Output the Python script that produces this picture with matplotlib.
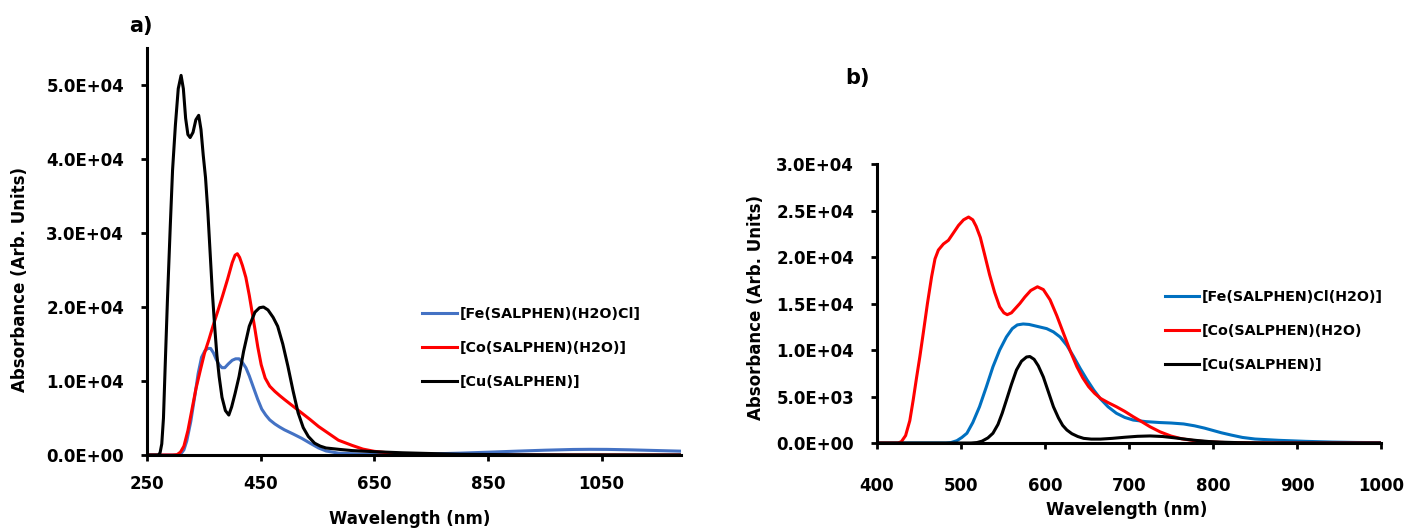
import matplotlib
matplotlib.use("Agg")
import matplotlib.pyplot as plt
from matplotlib.ticker import FuncFormatter, MultipleLocator

plt.rcParams['font.family'] = ['DejaVu Sans']
plt.rcParams['font.weight'] = 'bold'

# ------- panel a) data (nm, absorbance) -------
a_fe_x = [250, 303, 309, 315, 320, 327, 335, 340, 346, 352, 357, 362, 367, 372, 377, 382, 387, 393,
          400, 406, 412, 418, 424, 430, 437, 445, 452, 459, 466, 475, 483, 492, 507, 522, 537, 552,
          565, 587, 620, 660, 700, 750, 800, 850, 900, 950, 1000, 1030, 1060, 1100, 1150, 1190]
a_fe_y = [0, 0, 100, 700, 1900, 4500, 8400, 11000, 13200, 14100, 14400, 14400, 13800, 12900, 12200,
          11800, 11800, 12300, 12800, 13000, 13000, 12500, 11800, 10700, 9200, 7500, 6200, 5400, 4750,
          4200, 3800, 3400, 2850, 2270, 1600, 950, 550, 250, 150, 100, 100, 150, 250, 380, 520, 650,
          750, 770, 760, 700, 600, 520]

a_co_x = [250, 295, 303, 309, 315, 322, 329, 336, 344, 351, 359, 366, 374, 383, 392, 400, 405, 409,
          413, 418, 424, 430, 435, 440, 445, 451, 458, 466, 475, 484, 492, 507, 522, 537, 552, 570,
          587, 611, 630, 650, 680, 720, 760, 850, 1190]
a_co_y = [0, 0, 50, 400, 1200, 3300, 6100, 8900, 11500, 13700, 15600, 17400, 19300, 21500, 23800,
          26000, 27000, 27200, 26700, 25600, 24000, 21600, 19300, 17000, 14600, 12200, 10400, 9300,
          8600, 8000, 7500, 6600, 5700, 4800, 3850, 2900, 2000, 1300, 800, 500, 250, 100, 30, 0, 0]

a_cu_x = [250, 270, 273, 276, 279, 282, 286, 291, 295, 300, 305, 310, 314, 318, 322, 326, 331, 336,
          341, 345, 349, 353, 357, 361, 365, 369, 373, 377, 382, 388, 394, 399, 405, 412, 420, 430,
          440, 448, 455, 463, 472, 480, 489, 498, 507, 516, 525, 534, 545, 555, 565, 590, 611, 650,
          700, 750, 800, 900, 1000, 1190]
a_cu_y = [0, 0, 300, 1500, 5000, 12000, 21000, 31000, 38500, 44600, 49500, 51300, 49500, 45500, 43300,
          42900, 43600, 45300, 45900, 44000, 40500, 37500, 33000, 27500, 22000, 17500, 13500, 10600,
          7800, 6000, 5400, 6500, 8300, 10600, 14000, 17400, 19300, 19900, 20000, 19600, 18600, 17400,
          15000, 12000, 8700, 5700, 3700, 2500, 1600, 1200, 950, 750, 600, 450, 300, 200, 100, 40, 20,
          10]

a_labels = ['[Fe(SALPHEN)(H2O)Cl]', '[Co(SALPHEN)(H2O)]', '[Cu(SALPHEN)]']
a_xticks = [250, 450, 650, 850, 1050]

# ------- panel b) data (nm, absorbance) -------
b_fe_x = [400, 482, 488, 495, 501, 507, 514, 522, 530, 538, 546, 554, 561, 567, 574, 581, 588, 595,
          602, 610, 618, 626, 634, 642, 650, 658, 666, 675, 685, 695, 705, 720, 737, 750, 765, 778,
          790, 800, 810, 822, 835, 850, 878, 910, 942, 970, 1000]
b_fe_y = [0, 0, 50, 250, 600, 1050, 2200, 3900, 6000, 8200, 10000, 11400, 12300, 12700, 12800, 12750,
          12600, 12450, 12300, 11950, 11400, 10500, 9300, 8000, 6800, 5700, 4750, 3900, 3200, 2750,
          2470, 2300, 2200, 2150, 2050, 1850, 1600, 1350, 1100, 850, 600, 430, 290, 180, 100, 60, 40]

b_co_x = [400, 425, 429, 434, 439, 443, 447, 451, 455, 460, 465, 469, 473, 479, 485, 491, 497, 503,
          509, 514, 518, 523, 528, 534, 540, 546, 551, 555, 560, 565, 570, 576, 583, 591, 598, 606,
          614, 622, 630, 638, 645, 652, 659, 666, 675, 685, 695, 705, 715, 725, 737, 750, 763, 778,
          795, 815, 850, 900, 1000]
b_co_y = [0, 0, 150, 800, 2400, 4600, 7000, 9300, 11800, 15000, 17900, 19800, 20750, 21400, 21800,
          22600, 23400, 24000, 24300, 24000, 23300, 22100, 20300, 18100, 16200, 14650, 14000, 13800,
          14000, 14500, 15000, 15700, 16400, 16800, 16500, 15400, 13700, 11800, 9900, 8200, 7000, 6050,
          5350, 4800, 4350, 3900, 3400, 2830, 2300, 1750, 1200, 750, 450, 250, 120, 50, 10, 0, 0]

b_cu_x = [400, 512, 519, 525, 532, 538, 544, 549, 554, 560, 566, 572, 578, 582, 587, 592, 598, 604,
          610, 616, 621, 626, 632, 639, 646, 655, 666, 680, 695, 710, 725, 740, 754, 768, 781, 795,
          808, 830, 870, 1000]
b_cu_y = [0, 0, 50, 200, 550, 1050, 2000, 3200, 4600, 6300, 7850, 8800, 9250, 9300, 9000, 8300, 7100,
          5500, 3900, 2700, 1900, 1400, 1000, 700, 500, 420, 420, 500, 620, 720, 760, 700, 560, 400,
          270, 160, 100, 40, 0, 0]

b_labels = ['[Fe(SALPHEN)Cl(H2O)]', '[Co(SALPHEN)(H2O)', '[Cu(SALPHEN)]']
b_xticks = [400, 500, 600, 700, 800, 900, 1000]

fig = plt.figure(figsize=(14.08, 5.31), dpi=100)
ax1 = fig.add_axes([0.1044, 0.1431, 0.3793, 0.7665])
ax2 = fig.add_axes([0.6229, 0.1657, 0.3579, 0.5254])

sci = FuncFormatter(lambda v, p: f'{v:.1E}')


def style(ax, xpad):
    for s in ['top', 'right']:
        ax.spines[s].set_visible(False)
    for s in ['left', 'bottom']:
        ax.spines[s].set_linewidth(2.2)
    ax.yaxis.set_major_formatter(sci)
    ax.tick_params(axis='both', direction='out', length=4.5, width=2, labelsize=12)
    ax.tick_params(axis='y', pad=12)
    ax.tick_params(axis='x', pad=xpad)
    for lab in ax.get_xticklabels() + ax.get_yticklabels():
        lab.set_fontweight('bold')


# panel a
ax1.plot(a_fe_x, a_fe_y, color='#4472C4', lw=2.2, label=a_labels[0])
ax1.plot(a_co_x, a_co_y, color='#FF0000', lw=2.2, label=a_labels[1])
ax1.plot(a_cu_x, a_cu_y, color='black', lw=2.2, label=a_labels[2])
ax1.set_xlim(250, 1190)
ax1.set_ylim(0, 5.5e4)
ax1.set_xticks(a_xticks)
ax1.yaxis.set_major_locator(MultipleLocator(1e4))
style(ax1, 10)
ax1.set_xlabel('Wavelength (nm)', fontsize=12, fontweight='bold', va='center')
ax1.xaxis.set_label_coords(0.4925, -0.157)
ax1.set_ylabel('Absorbance (Arb. Units)', fontsize=12, fontweight='bold', va='center')
ax1.yaxis.set_label_coords(-0.238, 0.43)
ax1.legend(frameon=False, loc='center left', bbox_to_anchor=(0.296, 0.345),
           bbox_transform=fig.transFigure, fontsize=10.3, handlelength=2.4,
           handletextpad=0.2, labelspacing=1.4, borderaxespad=0)
ax1.text(0.0998, 0.951, 'a)', transform=fig.transFigure, fontsize=15, fontweight='bold',
         ha='center', va='center')

# panel b
ax2.plot(b_fe_x, b_fe_y, color='#0070C0', lw=2.2, label=b_labels[0])
ax2.plot(b_co_x, b_co_y, color='#FF0000', lw=2.2, label=b_labels[1])
ax2.plot(b_cu_x, b_cu_y, color='black', lw=2.2, label=b_labels[2])
ax2.set_xlim(400, 1000)
ax2.set_ylim(0, 3.0e4)
ax2.set_xticks(b_xticks)
ax2.yaxis.set_major_locator(MultipleLocator(5e3))
style(ax2, 20)
ax2.set_xlabel('Wavelength (nm)', fontsize=12, fontweight='bold', va='center')
ax2.xaxis.set_label_coords(0.496, -0.24)
ax2.set_ylabel('Absorbance (Arb. Units)', fontsize=12, fontweight='bold', va='center')
ax2.yaxis.set_label_coords(-0.24, 0.487)
ax2.legend(frameon=False, loc='center left', bbox_to_anchor=(0.823, 0.377),
           bbox_transform=fig.transFigure, fontsize=10.3, handlelength=2.4,
           handletextpad=0.2, labelspacing=1.4, borderaxespad=0)
ax2.text(0.6087, 0.853, 'b)', transform=fig.transFigure, fontsize=15, fontweight='bold',
         ha='center', va='center')

fig.savefig('out.png', dpi=100)
